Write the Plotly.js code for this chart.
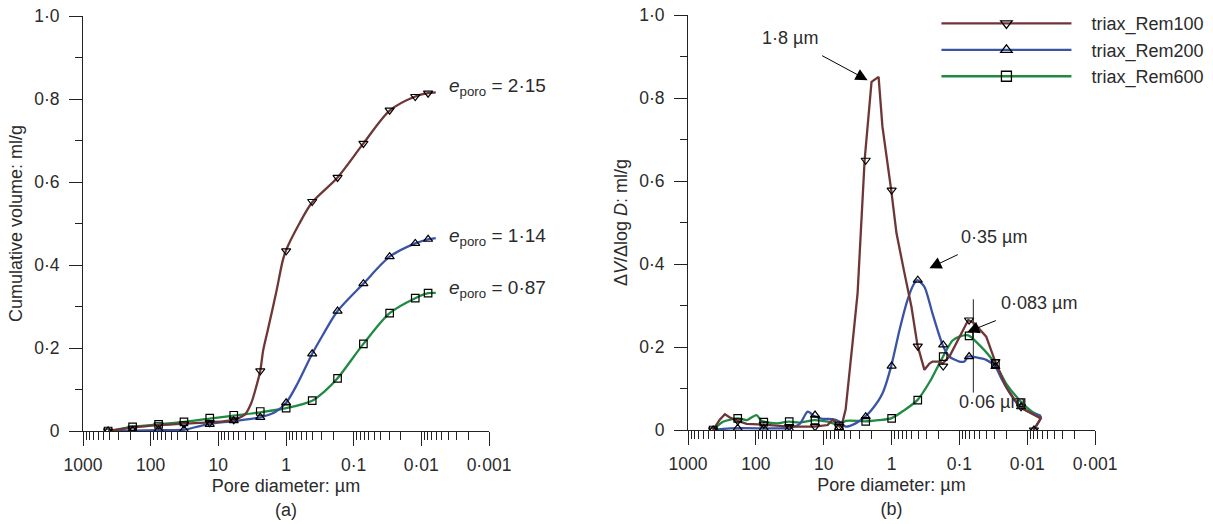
<!DOCTYPE html>
<html><head><meta charset="utf-8">
<script src="https://cdn.plot.ly/plotly-3.0.1.min.js"></script>
<style>html,body{margin:0;padding:0;background:#fff}#chart{width:1213px;height:524px}</style>
</head><body><div id="chart"></div>
<script>
// ---------- data ----------
const seriesNames = ['triax_Rem100', 'triax_Rem200', 'triax_Rem600'];
const xTickVals = [1000, 100, 10, 1, 0.1, 0.01, 0.001];
const xTickText = ['1000', '100', '10', '1', '0·1', '0·01', '0·001'];
const yTickVals = [0, 0.2, 0.4, 0.6, 0.8, 1.0];
const yTickText = ['0', '0·2', '0·4', '0·6', '0·8', '1·0'];

// measurement diameters where markers are drawn (µm)
const markerD = [426, 185, 76.4, 32.2, 13.4, 5.92, 2.40, 0.995, 0.410, 0.173, 0.0718, 0.0294, 0.0123, 0.00795];

// (a) cumulative volume, ml/g
const cumRem100D = [426, 185, 76.4, 32.2, 13.4, 5.92, 4.04, 3.27, 2.75, 2.40, 2.17, 1.86, 1.40, 1.12, 0.995, 0.634, 0.410, 0.173, 0.0718, 0.0294, 0.0123, 0.00795, 0.00612];
const cumRem100V = [0, 0.008, 0.014, 0.018, 0.021, 0.027, 0.04, 0.067, 0.107, 0.145, 0.195, 0.243, 0.333, 0.41, 0.436, 0.50, 0.551, 0.611, 0.693, 0.772, 0.806, 0.814, 0.816];
const cumRem200D = [426, 185, 76.4, 32.2, 18.9, 13.4, 5.92, 2.40, 1.46, 0.995, 0.672, 0.410, 0.284, 0.173, 0.0718, 0.0294, 0.0123, 0.00795, 0.00612];
const cumRem200V = [0, 0.001, 0.002, 0.003, 0.012, 0.017, 0.024, 0.033, 0.045, 0.068, 0.115, 0.186, 0.232, 0.289, 0.355, 0.42, 0.452, 0.462, 0.465];
const cumRem600D = [426, 185, 76.4, 32.2, 13.4, 5.92, 2.40, 0.995, 0.410, 0.271, 0.173, 0.0718, 0.0294, 0.0123, 0.00795, 0.00612];
const cumRem600V = [0, 0.01, 0.016, 0.022, 0.03, 0.037, 0.045, 0.055, 0.073, 0.095, 0.127, 0.21, 0.284, 0.32, 0.332, 0.333];
const cumRem100Mk = [0, 0.007, 0.015, 0.017, 0.02, 0.027, 0.145, 0.434, 0.553, 0.611, 0.693, 0.773, 0.806, 0.814];
const cumRem200Mk = [0, 0.002, 0.003, 0.003, 0.016, 0.025, 0.033, 0.068, 0.186, 0.289, 0.355, 0.42, 0.452, 0.462];
const cumRem600Mk = [0, 0.01, 0.016, 0.022, 0.031, 0.038, 0.047, 0.055, 0.073, 0.127, 0.21, 0.284, 0.32, 0.332];
const voidRatioLabels = ['2·15', '1·14', '0·87'];

// (b) dV/dlogD, ml/g
const psdRem100D = [428, 340, 286, 241, 186, 136, 76.2, 49.6, 32.7, 13.6, 8.73, 7.38, 6.44, 5.82, 5.26, 4.74, 3.75, 3.16, 2.49, 1.97, 1.55, 1.36, 1.01, 0.844, 0.644, 0.508, 0.415, 0.327, 0.276, 0.249, 0.197, 0.176, 0.140, 0.100, 0.0738, 0.0601, 0.0401, 0.0296, 0.0204, 0.0131, 0.00844, 0.0063, 0.00807];
const psdRem100V = [0, 0.025, 0.038, 0.03, 0.022, 0.015, 0.013, 0.01, 0.008, 0.008, 0.012, 0.025, 0.015, 0.008, 0.02, 0.05, 0.21, 0.33, 0.65, 0.839, 0.851, 0.731, 0.578, 0.474, 0.378, 0.297, 0.205, 0.145, 0.16, 0.165, 0.165, 0.16, 0.177, 0.225, 0.265, 0.257, 0.225, 0.165, 0.104, 0.056, 0.038, 0.028, 0];
const psdRem200D = [428, 241, 49.6, 32.7, 22.5, 17.2, 13.6, 10.35, 7.38, 5.82, 4.74, 3.38, 2.45, 1.97, 1.36, 1.01, 0.762, 0.582, 0.474, 0.415, 0.327, 0.249, 0.176, 0.140, 0.100, 0.0844, 0.0738, 0.0562, 0.0401, 0.0296, 0.0233, 0.0166, 0.0125, 0.00844, 0.0063, 0.00807];
const psdRem200V = [0, 0.004, 0.004, 0.005, 0.015, 0.044, 0.033, 0.027, 0.026, 0.02, 0.008, 0.016, 0.032, 0.048, 0.088, 0.154, 0.241, 0.313, 0.35, 0.361, 0.345, 0.281, 0.205, 0.177, 0.165, 0.165, 0.177, 0.175, 0.169, 0.153, 0.12, 0.08, 0.056, 0.04, 0.032, 0];
const psdRem600D = [428, 305, 186, 136, 97.7, 82.4, 49.6, 32.7, 22.5, 13.6, 8.73, 5.82, 4.74, 2.45, 1.55, 1.01, 0.644, 0.415, 0.276, 0.197, 0.127, 0.100, 0.0738, 0.0508, 0.0296, 0.0204, 0.0120, 0.00844, 0.0063];
const psdRem600V = [0, 0.02, 0.028, 0.024, 0.036, 0.022, 0.016, 0.02, 0.018, 0.024, 0.02, 0.012, 0.022, 0.021, 0.024, 0.028, 0.048, 0.072, 0.115, 0.16, 0.215, 0.225, 0.228, 0.205, 0.16, 0.112, 0.066, 0.044, 0.034];
const psdRem100Mk = [0, 0.022, 0.014, 0.008, 0.008, 0.008, 0.65, 0.578, 0.202, 0.154, 0.265, 0.165, 0.056, 0];
const psdRem200Mk = [0, 0.004, 0.004, 0.003, 0.036, 0.006, 0.032, 0.154, 0.361, 0.205, 0.177, 0.153, 0.056, 0];
const psdRem600Mk = [0, 0.028, 0.019, 0.02, 0.024, 0.01, 0.021, 0.028, 0.072, 0.177, 0.227, 0.16, 0.066];

// peak annotations on (b): label text and arrow tip (diameter, value)
const peakLabels = ['1·8 µm', '0·35 µm', '0·083 µm'];
const peakD = [2.25, 0.276, 0.0762];
const peakV = [0.843, 0.39, 0.236];
const tickLabel = '0·06 µm';
const markerLineD = [0.0622, 0.0622];
const markerLineV = [0.09, 0.315];

// ---------- style ----------
const FONT = 'Liberation Sans, Arial, Helvetica, sans-serif';
const TXT = '#2b2b2b';
const colors = ['#6e3636', '#3b53a5', '#1f8a41'];
const symbols = ['triangle-down-open', 'triangle-up-open', 'square-open'];
const msize = [8, 8, 7.5];

const cumD = [cumRem100D, cumRem200D, cumRem600D];
const cumV = [cumRem100V, cumRem200V, cumRem600V];
const cumMk = [cumRem100Mk, cumRem200Mk, cumRem600Mk];
const psdD = [psdRem100D, psdRem200D, psdRem600D];
const psdV = [psdRem100V, psdRem200V, psdRem600V];
const psdMk = [psdRem100Mk, psdRem200Mk, psdRem600Mk];
const psdShape = ['linear', 'spline', 'spline'];

const traces = [];
// reference tick line for 0.06 µm (drawn under the curves)
traces.push({x: markerLineD, y: markerLineV, xaxis: 'x2', yaxis: 'y2', mode: 'lines',
  line: {color: '#222', width: 1}, showlegend: false, hoverinfo: 'skip'});

const order = [2, 1, 0];
order.forEach(i => {
  traces.push({x: cumD[i], y: cumV[i], xaxis: 'x', yaxis: 'y', mode: 'lines',
    line: {color: colors[i], width: 2.3, shape: 'spline', smoothing: 0.8}, showlegend: false});
});
order.forEach(i => {
  traces.push({x: psdD[i], y: psdV[i], xaxis: 'x2', yaxis: 'y2', mode: 'lines',
    line: {color: colors[i], width: 2.3, shape: psdShape[i], smoothing: 0.7}, showlegend: false});
});
order.forEach(i => {
  traces.push({x: markerD.slice(0, cumMk[i].length), y: cumMk[i], xaxis: 'x', yaxis: 'y', mode: 'markers',
    marker: {symbol: symbols[i], size: msize[i], color: '#000', line: {width: 1.2, color: '#000'}}, showlegend: false});
  traces.push({x: markerD.slice(0, psdMk[i].length), y: psdMk[i], xaxis: 'x2', yaxis: 'y2', mode: 'markers',
    marker: {symbol: symbols[i], size: msize[i], color: '#000', line: {width: 1.2, color: '#000'}}, showlegend: false});
});
// legend-only entries (a single empty point, nothing drawn)
const NB = '\u00A0\u00A0\u00A0';
[0, 1, 2].forEach(i => {
  traces.push({x: [null], y: [null], xaxis: 'x2', yaxis: 'y2', mode: 'lines+markers', name: NB + seriesNames[i],
    line: {color: colors[i], width: 2.3},
    marker: {symbol: symbols[i], size: 10, color: '#000', line: {width: 1.3, color: '#000'}}});
});

const minorX = [];
for (let e = -3; e < 3; e++) for (let k = 2; k <= 9; k++) minorX.push(k * Math.pow(10, e));

function xAxis(domain, anchor, title) {
  return {
    type: 'log', range: [3, -3], domain: domain, anchor: anchor,
    showline: true, linecolor: '#222', linewidth: 1, showgrid: false, zeroline: false,
    ticks: 'outside', ticklen: 14, tickwidth: 1, tickcolor: '#222',
    tickmode: 'array', tickvals: xTickVals, ticktext: xTickText,
    tickfont: {family: FONT, size: 17.5, color: TXT}, ticklabelstandoff: 4,
    minor: {tickmode: 'array', tickvals: minorX, ticks: 'outside', ticklen: 8, tickwidth: 1, tickcolor: '#222', showgrid: false},
    title: {text: title, font: {family: FONT, size: 18, color: TXT}, standoff: 5}
  };
}
function yAxis(domain, anchor, title) {
  return {
    range: [0, 1], domain: domain, anchor: anchor,
    showline: true, linecolor: '#222', linewidth: 1, showgrid: false, zeroline: false,
    ticks: 'outside', ticklen: 13, tickwidth: 1, tickcolor: '#222',
    tickmode: 'array', tickvals: yTickVals, ticktext: yTickText,
    tickfont: {family: FONT, size: 17.5, color: TXT}, ticklabelstandoff: 6,
    minor: {tickmode: 'array', tickvals: [0.1, 0.3, 0.5, 0.7, 0.9], ticks: 'outside', ticklen: 7, tickwidth: 1, tickcolor: '#222', showgrid: false},
    title: {text: title, font: {family: FONT, size: 18, color: TXT}, standoff: 6}
  };
}

const annotations = [];
// e_poro labels next to curve ends in (a)
const eLabelV = [0.829, 0.467, 0.342];
[0, 1, 2].forEach(i => {
  annotations.push({xref: 'x', yref: 'y', x: Math.log10(0.0042), y: eLabelV[i], xanchor: 'left', yanchor: 'middle',
    text: '<i>e</i><sub>poro</sub> = ' + voidRatioLabels[i], showarrow: false,
    font: {family: FONT, size: 19, color: TXT}});
});
// (b) peak labels with arrows: text offset (px) from the arrow tip
const arrowOff = [[-78, -42], [65, -31], [72, -29]];
[0, 1, 2].forEach(i => {
  annotations.push({xref: 'x2', yref: 'y2', x: Math.log10(peakD[i]), y: peakV[i], text: peakLabels[i],
    showarrow: true, ax: arrowOff[i][0], ay: arrowOff[i][1], borderpad: 7,
    arrowhead: 2, arrowsize: 2.4, arrowwidth: 1, arrowcolor: '#000', standoff: 0,
    font: {family: FONT, size: 18, color: TXT}});
});
annotations.push({xref: 'x2', yref: 'y2', x: -1.48, y: 0.067, text: tickLabel, showarrow: false,
  font: {family: FONT, size: 18, color: TXT}});

const layout = {
  width: 1213, height: 524, margin: {l: 0, r: 0, t: 0, b: 0},
  paper_bgcolor: '#fff', plot_bgcolor: 'rgba(0,0,0,0)',
  font: {family: FONT, size: 16, color: TXT},
  xaxis: xAxis([83 / 1213, 489 / 1213], 'y', 'Pore diameter: µm<br>(a)'),
  yaxis: yAxis([93 / 524, 508 / 524], 'x', 'Cumulative volume: ml/g'),
  xaxis2: xAxis([688 / 1213, 1095 / 1213], 'y2', 'Pore diameter: µm<br>(b)'),
  yaxis2: yAxis([94 / 524, 509 / 524], 'x2', 'Δ<i>V</i>/Δlog <i>D</i>: ml/g'),
  showlegend: true,
  legend: {x: 0.772, y: 0.99, xanchor: 'left', yanchor: 'top', bgcolor: 'rgba(0,0,0,0)', borderwidth: 0,
    font: {family: FONT, size: 18, color: TXT}, itemwidth: 130, traceorder: 'normal'},
  annotations: annotations
};
Plotly.newPlot('chart', traces, layout, {displayModeBar: false, staticPlot: true});
</script>
</body></html>
